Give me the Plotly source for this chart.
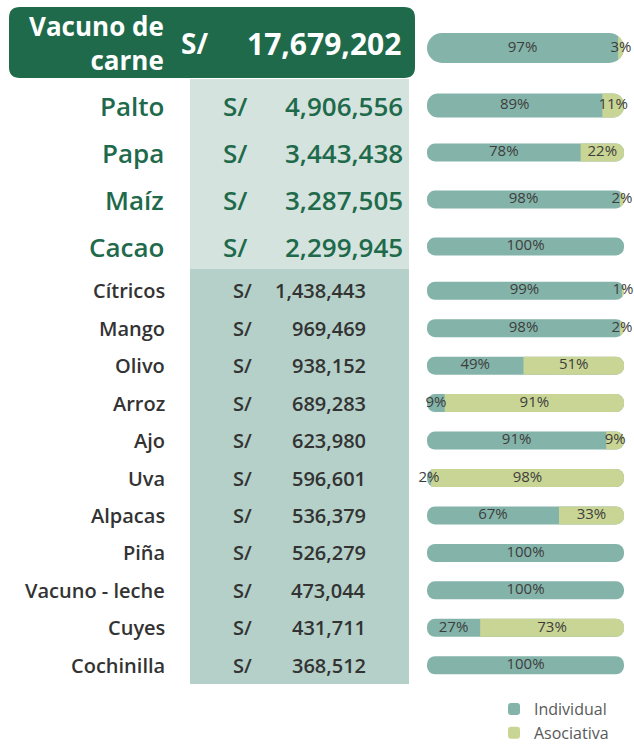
import plotly.graph_objects as go

# ---------------- data ----------------
top_category = ["Vacuno de carne"]
top_value = [17679202]
top_individual = [97]
top_asociativa = [3]

mid_categories = ["Palto", "Papa", "Maíz", "Cacao"]
mid_values = [4906556, 3443438, 3287505, 2299945]
mid_individual = [89, 78, 98, 100]
mid_asociativa = [11, 22, 2, 0]

low_categories = ["Cítricos", "Mango", "Olivo", "Arroz", "Ajo", "Uva", "Alpacas",
                  "Piña", "Vacuno - leche", "Cuyes", "Cochinilla"]
low_values = [1438443, 969469, 938152, 689283, 623980, 596601, 536379,
              526279, 473044, 431711, 368512]
low_individual = [99, 98, 49, 9, 91, 2, 67, 100, 100, 27, 100]
low_asociativa = [1, 2, 51, 91, 9, 98, 33, 0, 0, 73, 0]

currency = "S/"
series_names = ["Individual", "Asociativa"]

# ---------------- style ----------------
W, H = 634, 745
C_IND = "#84b4a9"
C_ASO = "#c9d594"
C_GREEN = "#1e6a4b"
PANEL_LIGHT = "#d4e3de"
PANEL_DARK = "#b4d0c8"
TXT_DARK = "#333333"
FONT = "Open Sans"


def px(x):
    return x / W


def py(y):
    return 1 - y / H


blocks = [
    dict(cats=top_category, vals=top_value, ind=top_individual, aso=top_asociativa,
         ydom=(18, 78), widths=[0.5]),
    dict(cats=mid_categories, vals=mid_values, ind=mid_individual, aso=mid_asociativa,
         ydom=(82, 270), widths=[0.51, 0.38, 0.38, 0.38]),
    dict(cats=low_categories, vals=low_values, ind=low_individual, aso=low_asociativa,
         ydom=(272, 684), widths=[0.48] * len(low_categories)),
]
NB = len(blocks)

fig = go.Figure()
annotations = []

for k, b in enumerate(blocks, start=1):
    sfx = "" if k == 1 else str(k)
    xa, ya = "x" + sfx, "y" + sfx
    xo = "x" + str(k + NB)          # overlaying x axis for the stacked layer
    n = len(b["cats"])
    idx = list(range(n))
    total = [i + a for i, a in zip(b["ind"], b["aso"])]

    # full rounded pill (Individual colour) under everything
    fig.add_trace(go.Bar(
        y=idx, x=total, base=[0] * n, orientation="h",
        width=b["widths"], name=series_names[0], legendrank=1,
        marker=dict(color=C_IND, cornerradius="50%", line=dict(width=0)),
        xaxis=xa, yaxis=ya, showlegend=(k == 1), hoverinfo="skip"))
    # stacked layer: transparent Individual part + Asociativa part (rounded stack top)
    fig.add_trace(go.Bar(
        y=idx, x=b["ind"], orientation="h", width=b["widths"],
        marker=dict(color="rgba(0,0,0,0)", cornerradius="50%", line=dict(width=0)),
        xaxis=xo, yaxis=ya, showlegend=False, hoverinfo="skip"))
    fig.add_trace(go.Bar(
        y=idx, x=b["aso"], orientation="h", width=b["widths"],
        name=series_names[1], legendrank=2,
        marker=dict(color=C_ASO, cornerradius="50%", line=dict(width=0)),
        xaxis=xo, yaxis=ya, showlegend=(k == 1), hoverinfo="skip"))

    # percentage labels
    lx, ly, lt = [], [], []
    for j, (i, a) in enumerate(zip(b["ind"], b["aso"])):
        lx.append(i / 2); ly.append(j); lt.append(f"{i}%")
        if a > 0:
            lx.append(i + a / 2); ly.append(j); lt.append(f"{a}%")
    fig.add_trace(go.Scatter(
        x=lx, y=ly, text=lt, mode="text", xaxis=xo, yaxis=ya,
        textfont=dict(family=FONT, size=15, color="#3d3d3d"),
        showlegend=False, hoverinfo="skip", cliponaxis=False))

    fig.update_layout(**{
        ("xaxis" + sfx): dict(domain=[px(427), px(624)], range=[0, 100], visible=False,
                              anchor=ya, fixedrange=True),
        ("xaxis" + str(k + NB)): dict(domain=[px(427), px(624)], range=[0, 100],
                                      visible=False, anchor=ya, overlaying=xa,
                                      fixedrange=True),
        ("yaxis" + sfx): dict(domain=[py(b["ydom"][1]), py(b["ydom"][0])],
                              range=[n - 0.5, -0.5], visible=False, anchor=xa,
                              fixedrange=True),
    })

    for j, (cat, val) in enumerate(zip(b["cats"], b["vals"])):
        if k == 1:
            lab = cat.replace(" de ", " de<br>")
            annotations += [
                dict(text=lab, x=px(166), xanchor="right", y=j, yref=ya, yshift=5,
                     align="right", font=dict(family=FONT, size=26, color="white", weight=700)),
                dict(text=currency, x=px(179), xanchor="left", y=j, yref=ya, yshift=5,
                     font=dict(family=FONT, size=28, color="white", weight=700)),
                dict(text=f"{val:,}", x=px(403), xanchor="right", y=j, yref=ya, yshift=5,
                     font=dict(family=FONT, size=30, color="white", weight=700)),
            ]
        elif k == 2:
            annotations += [
                dict(text=cat, x=px(166), xanchor="right", y=j, yref=ya,
                     font=dict(family=FONT, size=26, color=C_GREEN, weight=600)),
                dict(text=currency, x=px(221), xanchor="left", y=j, yref=ya,
                     font=dict(family=FONT, size=26, color=C_GREEN, weight=600)),
                dict(text=f"{val:,}", x=px(405), xanchor="right", y=j, yref=ya,
                     font=dict(family=FONT, size=26, color=C_GREEN, weight=600)),
            ]
        else:
            annotations += [
                dict(text=cat, x=px(167), xanchor="right", y=j, yref=ya,
                     font=dict(family=FONT, size=20, color=TXT_DARK, weight=600)),
                dict(text=currency, x=px(231), xanchor="left", y=j, yref=ya,
                     font=dict(family=FONT, size=20, color=TXT_DARK, weight=600)),
                dict(text=f"{val:,}", x=px(368), xanchor="right", y=j, yref=ya,
                     font=dict(family=FONT, size=20, color=TXT_DARK, weight=600)),
            ]

for a in annotations:
    a.update(xref="paper", showarrow=False)


def rounded_rect(x0, y0, x1, y1, r):
    pts = [
        ("M", [(x0 + r, y0)]), ("L", [(x1 - r, y0)]), ("Q", [(x1, y0), (x1, y0 + r)]),
        ("L", [(x1, y1 - r)]), ("Q", [(x1, y1), (x1 - r, y1)]), ("L", [(x0 + r, y1)]),
        ("Q", [(x0, y1), (x0, y1 - r)]), ("L", [(x0, y0 + r)]), ("Q", [(x0, y0), (x0 + r, y0)]),
    ]
    s = ""
    for cmd, ps in pts:
        s += cmd + " ".join(f"{px(x):.5f},{py(y):.5f}" for x, y in ps) + " "
    return s + "Z"


shapes = [
    dict(type="path", xref="paper", yref="paper", path=rounded_rect(9, 7, 415, 78, 11),
         fillcolor=C_GREEN, line=dict(width=0), layer="below"),
    dict(type="rect", xref="paper", yref="paper", x0=px(190), x1=px(409), y0=py(269), y1=py(79),
         fillcolor=PANEL_LIGHT, line=dict(width=0), layer="below"),
    dict(type="rect", xref="paper", yref="paper", x0=px(190), x1=px(409), y0=py(684), y1=py(269),
         fillcolor=PANEL_DARK, line=dict(width=0), layer="below"),
]

fig.update_layout(
    width=W, height=H,
    margin=dict(l=0, r=0, t=0, b=0, autoexpand=False),
    paper_bgcolor="white", plot_bgcolor="rgba(0,0,0,0)",
    barmode="relative",
    annotations=annotations,
    shapes=shapes,
    showlegend=True,
    legend=dict(x=px(494), y=py(692), xanchor="left", yanchor="top",
                font=dict(family=FONT, size=16, color="#595959"),
                bgcolor="rgba(0,0,0,0)", tracegroupgap=0, itemwidth=30),
)

fig.write_html("out.html", config={"displayModeBar": False},
               post_script="document.body.style.margin='0';document.body.style.overflow='hidden';")
